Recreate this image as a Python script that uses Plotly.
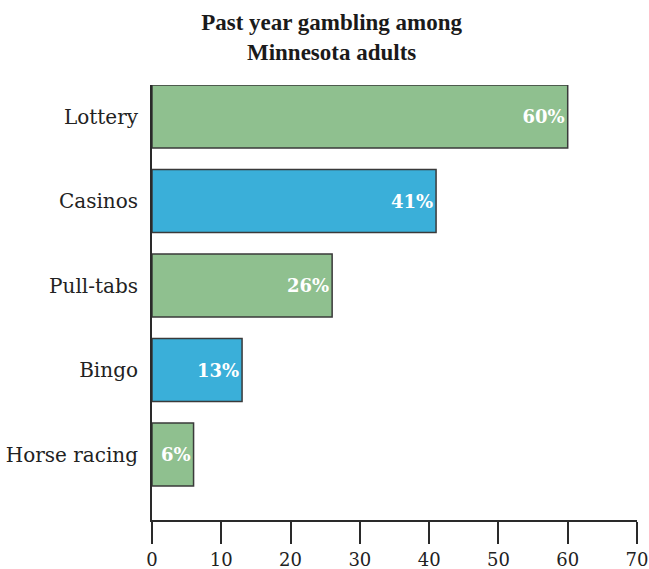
import plotly.graph_objects as go

categories = ["Lottery", "Casinos", "Pull-tabs", "Bingo", "Horse racing"]
values = [60, 41, 26, 13, 6]
labels = ["60%", "41%", "26%", "13%", "6%"]
colors = ["#8fc08f", "#3aafd9", "#8fc08f", "#3aafd9", "#8fc08f"]
x_ticks = [0, 10, 20, 30, 40, 50, 60, 70]

cats_rev = categories[::-1]
fig = go.Figure(go.Bar(
    x=values[::-1], y=cats_rev, orientation="h",
    marker=dict(color=colors[::-1], line=dict(color="#3a3a3a", width=1.5)),
    text=["<b>" + t + "</b>" for t in labels[::-1]], textposition="inside",
    insidetextanchor="end",
    textfont=dict(family="DejaVu Serif", size=18, color="white"),
    width=0.745, cliponaxis=False,
))
fig.update_layout(
    width=649, height=569,
    margin=dict(l=152, r=12, t=85, b=49),
    paper_bgcolor="white", plot_bgcolor="white",
    title=dict(text="<b>Past year gambling among<br>Minnesota adults</b>",
               x=0.511, xanchor="center", xref="container",
               y=(569 - 30) / 569, yanchor="middle", yref="container",
               font=dict(family="Liberation Serif", size=23, color="#1a1a1a")),
    font=dict(family="DejaVu Serif", color="#222"),
    showlegend=False,
)
fig.update_xaxes(range=[0, 70], tickvals=x_ticks, ticks="outside", ticklen=22,
                 tickwidth=2, tickcolor="#2a2a2a", showline=True, linewidth=2,
                 linecolor="#2a2a2a", showgrid=False, zeroline=False, automargin=False,
                 ticklabeloverflow="allow", ticklabelstandoff=0,
                 tickfont=dict(size=18, family="DejaVu Serif", color="#222"))
fig.update_yaxes(range=[-0.775, 4.373], showline=True, linewidth=2,
                 linecolor="#2a2a2a", showgrid=False, ticks="", ticklabelstandoff=8,
                 automargin=False,
                 tickfont=dict(size=20, family="DejaVu Serif", color="#222"))
fig.write_html("out.html")
